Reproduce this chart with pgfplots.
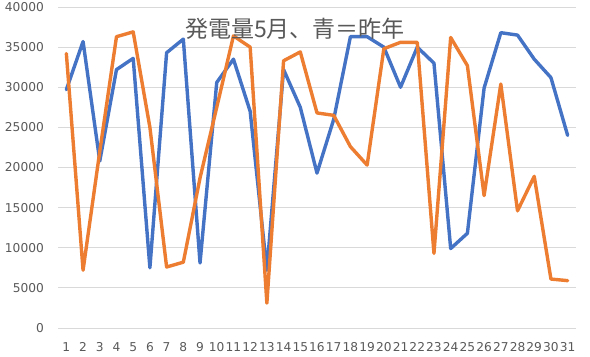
\documentclass[border=0pt]{standalone}
\usepackage{pgfplots}
\pgfplotsset{compat=1.18}
\usepackage{fontspec}
\setmainfont{DejaVu Sans}
\newfontfamily\cjk{Noto Sans CJK JP}
\definecolor{exblue}{HTML}{4472C4}
\definecolor{exorange}{HTML}{ED7D31}
\definecolor{txtgray}{HTML}{595959}
\definecolor{gridgray}{HTML}{D9D9D9}
\begin{document}
\begin{tikzpicture}
\useasboundingbox (-58bp,-29bp) rectangle (532bp,328bp);
\begin{axis}[
  at={(0,0)}, anchor=south west,
  scale only axis, width=518bp, height=321bp,
  xmin=0.5, xmax=31.5, ymin=0, ymax=40000,
  xtick={1,...,31}, ytick={0,5000,...,40000},
  axis line style={draw=none}, major tick length=0pt,
  ymajorgrids, grid style={gridgray, line width=0.9bp},
  scaled y ticks=false,
  /pgf/number format/1000 sep={},
  /pgf/number format/assume math mode=true,
  ticklabel style={font=\fontsize{12.2bp}{14bp}\selectfont, text=txtgray, inner sep=0pt},
  yticklabel style={anchor=east, xshift=-14bp},
  xticklabel style={anchor=north, yshift=-14bp},
  clip=false,
]
\addplot[exblue, line width=3.4bp, line join=round, line cap=round] coordinates {
(1,29700) (2,35700) (3,20800) (4,32200) (5,33600) (6,7500) (7,34300) (8,36000)
(9,8100) (10,30600) (11,33500) (12,27000) (13,7200) (14,32200) (15,27500) (16,19300)
(17,26000) (18,36300) (19,36300) (20,35000) (21,30000) (22,35000) (23,33000) (24,9900)
(25,11800) (26,29900) (27,36800) (28,36500) (29,33500) (30,31200) (31,24000)
};
\addplot[exorange, line width=3.4bp, line join=round, line cap=round] coordinates {
(1,34200) (2,7200) (3,22000) (4,36300) (5,36900) (6,25000) (7,7600) (8,8200)
(9,18700) (10,27500) (11,36400) (12,35000) (13,3100) (14,33300) (15,34400) (16,26800)
(17,26500) (18,22600) (19,20300) (20,34800) (21,35600) (22,35600) (23,9300) (24,36200)
(25,32700) (26,16500) (27,30400) (28,14600) (29,18900) (30,6100) (31,5900)
};
\end{axis}
\node[text=txtgray, font=\cjk\fontsize{23bp}{26bp}\selectfont, inner sep=0pt] at (237bp,299bp) {発電量5月、青＝昨年};
\end{tikzpicture}
\end{document}
